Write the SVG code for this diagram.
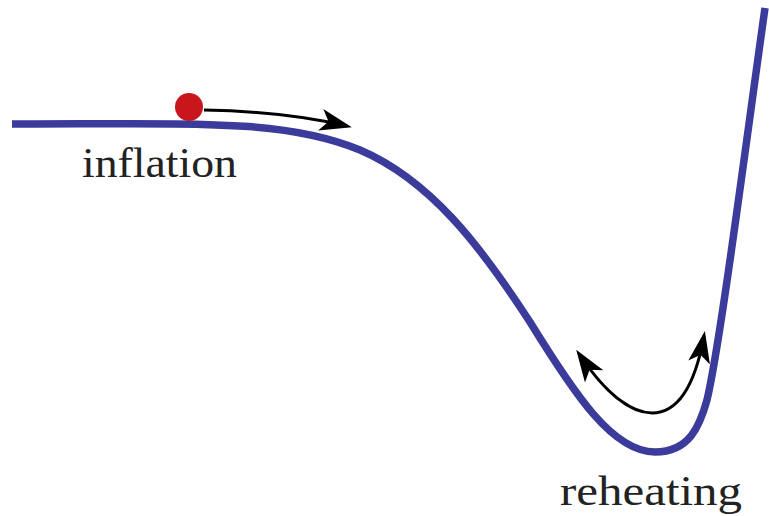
<svg xmlns="http://www.w3.org/2000/svg" width="769" height="516" viewBox="0 0 769 516">
<style>
.pot{fill:none;stroke:#3b3b9b;stroke-width:7.5;stroke-linecap:butt}
.arr{fill:none;stroke:#000;stroke-width:3}
.lbl{font-family:"Liberation Serif","DejaVu Serif",serif;fill:#222}
</style>
<defs>
<marker id="ah" markerUnits="userSpaceOnUse" markerWidth="32" markerHeight="22" refX="27" refY="11" orient="auto-start-reverse" viewBox="0 0 32 22">
<path d="M0,0 L32,11 L0,22 L8,11 Z" fill="#000"/>
</marker>
</defs>
<rect width="769" height="516" fill="#fff"/>
<g id="potential">
<path class="pot" d="M12,124 C200,124 285,119 360,150 C430,180 480,245 530,322 C575,395 613,452 655,452 C690,452 700,425 707,400 C720,345 745,150 765,8"/>
</g>
<g id="connectors">
<path class="arr" d="M204,110 C260,111 305,116 347,126" marker-end="url(#ah)"/>
<path class="arr" d="M579,354 C610,400 635,413 652,413 C678,413 695,385 704,336" marker-start="url(#ah)" marker-end="url(#ah)"/>
</g>
<g id="ball">
<circle cx="189" cy="107" r="14" fill="#c8161c"/>
</g>
<g id="inflation">
<text class="lbl" x="82" y="177" font-size="42" textLength="155" lengthAdjust="spacingAndGlyphs">inflation</text>
</g>
<g id="reheating">
<text class="lbl" x="560" y="505" font-size="43" textLength="182" lengthAdjust="spacingAndGlyphs">reheating</text>
</g>
</svg>
